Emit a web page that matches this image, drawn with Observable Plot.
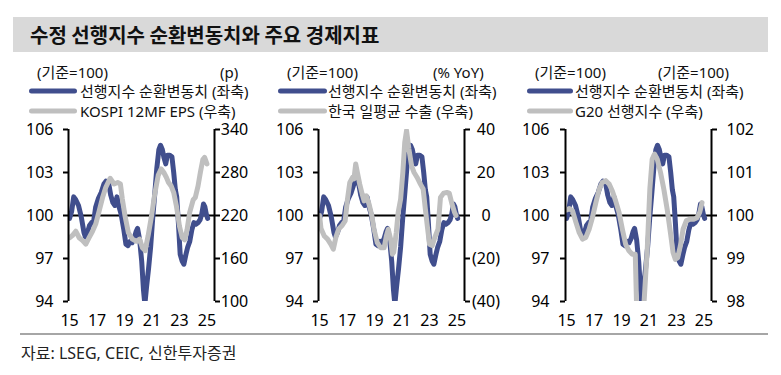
<!DOCTYPE html>
<html><head><meta charset="utf-8">
<script src="https://cdn.jsdelivr.net/npm/d3@7"></script>
<script src="https://cdn.jsdelivr.net/npm/@observablehq/plot@0.6"></script>
<style>
body{margin:0;background:#fff;}
#c{position:relative;width:781px;height:375px;font-family:"Noto Sans","Noto Sans CJK KR",sans-serif;color:#111;overflow:hidden;}
.t{position:absolute;white-space:nowrap;line-height:1;transform:translateY(-50%);}
.sw{position:absolute;height:5px;border-radius:3px;transform:translateY(-50%);}
.p{position:absolute;top:115px;}
</style></head><body><div id="c"></div>
<script>
// ---- data ----
const TITLE = "수정 선행지수 순환변동치와 주요 경제지표";
const CAPTION = "자료: LSEG, CEIC, 신한투자증권";
const X_TICKS = [2015, 2017, 2019, 2021, 2023, 2025];
const LEFT_TICKS = [94, 97, 100, 103, 106];

// 수정 선행지수 순환변동치 (left axis, same in all panels)
const cliDates = [2015.0,2015.15,2015.3,2015.45,2015.65,2015.85,2016.05,2016.15,2016.3,2016.45,2016.6,2016.75,2016.9,2017.1,2017.3,2017.5,2017.65,2017.85,2018.0,2018.15,2018.3,2018.45,2018.6,2018.75,2018.95,2019.1,2019.25,2019.4,2019.55,2019.7,2019.85,2019.95,2020.1,2020.25,2020.38,2020.48,2020.6,2020.75,2020.9,2021.05,2021.2,2021.35,2021.5,2021.62,2021.75,2021.88,2022.0,2022.12,2022.3,2022.45,2022.58,2022.7,2022.8,2022.92,2023.05,2023.2,2023.32,2023.45,2023.6,2023.75,2023.9,2024.05,2024.2,2024.35,2024.5,2024.62,2024.75,2024.85,2024.95,2025.05];
const cliValues = [99.8,100.3,101.3,101.1,100.7,99.9,98.8,98.5,98.8,99.3,99.5,99.6,100.6,101.2,101.6,102.2,102.4,102.2,101.4,100.9,100.7,101.3,100.6,100.1,99.0,98.0,97.9,98.2,98.1,98.4,98.9,99.1,98.3,96.8,94.8,93.8,95.0,96.3,97.8,99.8,101.5,103.3,104.6,104.9,104.6,104.0,103.6,104.2,104.2,104.1,103.0,101.8,101.3,99.5,97.3,96.8,96.6,97.2,97.8,98.2,99.0,99.5,99.4,99.5,99.7,100.1,100.8,100.6,100.1,99.8];

// KOSPI 12MF EPS (p, right axis)
const epsDates = [2015.0,2015.2,2015.45,2015.7,2015.95,2016.18,2016.42,2016.67,2016.9,2017.15,2017.4,2017.63,2017.95,2018.24,2018.5,2018.7,2018.84,2019.03,2019.28,2019.57,2019.86,2020.1,2020.3,2020.5,2020.72,2020.97,2021.2,2021.45,2021.67,2021.86,2022.05,2022.2,2022.4,2022.58,2022.78,2023.0,2023.2,2023.38,2023.55,2023.74,2024.0,2024.15,2024.35,2024.52,2024.7,2024.83,2025.0];
const epsValues = [189,192,198,189,185,180,189,198,208,226,245,259,272,264,266,264,243,220,196,187,184,187,175,171,192,220,250,276,285,280,273,266,261,252,233,205,189,186,200,224,242,245,261,280,298,301,292];
const epsTicks = [100, 160, 220, 280, 340];

// 한국 일평균 수출 (% YoY, right axis)
const expDates = [2015.0,2015.1,2015.34,2015.58,2015.82,2016.0,2016.18,2016.38,2016.62,2016.86,2017.03,2017.2,2017.4,2017.5,2017.63,2017.75,2017.92,2018.1,2018.24,2018.4,2018.6,2018.8,2018.96,2019.2,2019.44,2019.7,2019.86,2020.0,2020.17,2020.3,2020.4,2020.58,2020.72,2020.9,2021.06,2021.2,2021.33,2021.5,2021.7,2021.88,2022.1,2022.34,2022.54,2022.7,2022.87,2023.0,2023.2,2023.38,2023.62,2023.8,2024.03,2024.27,2024.44,2024.64,2024.83,2024.93];
const expValues = [0,-6,-9.5,-11,-13.4,-15.7,-10.3,-6.4,-4.8,-2.5,7.6,15.4,17.7,17,24,20,14.6,10,6.8,9.2,5.3,0,-6.4,-12.6,-15,-15,-9.5,-6.4,-11,-18,-17,-8,1.4,7.6,20,34,39.5,31,23,20,17.7,14.6,12.3,3,-6.4,-13.4,-14,-10.3,-6.4,8.4,10.4,10.7,10.4,5.3,1.4,0];
const expTicks = [-40, -20, 0, 20, 40];

// G20 선행지수 (기준=100, right axis)
const g20Dates = [2015.0,2015.2,2015.43,2015.68,2015.92,2016.16,2016.4,2016.64,2016.88,2017.13,2017.37,2017.6,2017.85,2018.1,2018.33,2018.57,2018.82,2019.06,2019.3,2019.54,2019.78,2020.0,2020.12,2020.25,2020.4,2020.55,2020.68,2020.87,2021.06,2021.23,2021.4,2021.6,2021.84,2022.08,2022.32,2022.56,2022.75,2022.92,2023.09,2023.28,2023.48,2023.72,2023.96,2024.25,2024.5,2024.69,2024.86];
const g20Values = [100.13,100.16,100.11,99.84,99.6,99.45,99.49,99.68,99.95,100.3,100.61,100.77,100.81,100.73,100.57,100.34,100.07,99.68,99.33,99.18,99.1,99.1,97.6,96.5,96.8,97.5,98.2,99.2,100.61,101.31,101.43,101.31,101.0,100.61,100.15,99.6,99.14,98.98,99.02,99.29,99.68,99.88,99.91,99.91,99.95,100.07,100.3];
const g20Ticks = [98, 99, 100, 101, 102];

// ---- styling ----
const BLUE = "#404E8D";
const GRAY = "#BFBFBF";
const FONT = '"Noto Sans","Noto Sans CJK KR",sans-serif';
const X_DOMAIN = [2014.92, 2025.55];

const c = document.getElementById("c");
function txt(s, x, y, size, extra = {}) {
  const e = document.createElement("div");
  e.className = "t"; e.textContent = s;
  e.style.left = x + "px"; e.style.top = y + "px"; e.style.fontSize = size + "px";
  Object.assign(e.style, extra);
  c.appendChild(e); return e;
}
function sw(x, w, y, color) {
  const e = document.createElement("div");
  e.className = "sw"; e.style.left = x + "px"; e.style.width = w + "px"; e.style.top = y + "px"; e.style.background = color;
  c.appendChild(e);
}

// title band
const band = document.createElement("div");
Object.assign(band.style, {position:"absolute", left:"13px", top:"17px", width:"755px", height:"35px", background:"#D9D9D9"});
c.appendChild(band);
txt(TITLE, 30, 35, 20, {fontWeight:"bold", fontFamily:'"Noto Sans CJK KR",sans-serif', color:"#111"});

// bottom separator + caption
const sep = document.createElement("div");
Object.assign(sep.style, {position:"absolute", left:"20px", top:"333px", width:"748px", height:"2px", background:"#A6A6A6"});
c.appendChild(sep);
txt(CAPTION, 21, 353, 16, {color:"#222"});

const cliData = cliDates.map((t, i) => ({t, v: cliValues[i]}));

function panel({left, mr, dates, values, toLeft, fromLeft, ticks, fmt, rPad, rAnchor, lPad}) {
  const grayData = dates.map((t, i) => ({t, v: toLeft(values[i])}));
  const svg = Plot.plot({
    width: 68 + 146 + mr, height: 216,
    marginLeft: 68, marginRight: mr, marginTop: 14, marginBottom: 30,
    x: {domain: X_DOMAIN, axis: null},
    y: {domain: [94, 106], axis: null},
    style: {fontSize: "16px", fontFamily: FONT, color: "#000", background: "transparent", overflow: "visible"},
    marks: [
      Plot.ruleY([100], {stroke: "#000", strokeWidth: 2}),
      Plot.line(cliData, {x: "t", y: "v", stroke: BLUE, strokeWidth: 5, strokeLinejoin: "round", strokeLinecap: "round", clip: true}),
      Plot.line(grayData, {x: "t", y: "v", stroke: GRAY, strokeWidth: 5, strokeLinejoin: "round", strokeLinecap: "round", clip: true}),
      Plot.ruleX([X_DOMAIN[0]], {y1: 94, y2: 106, stroke: "#000", strokeWidth: 2}),
      Plot.ruleX([X_DOMAIN[1]], {y1: 94, y2: 106, stroke: "#000", strokeWidth: 2}),
      Plot.axisY(LEFT_TICKS, {anchor: "left", label: null, tickSize: 5, tickPadding: lPad, strokeWidth: 2, tickFormat: d => String(d)}),
      Plot.axisY(ticks.map(toLeft), {anchor: "right", label: null, tickSize: 5, tickPadding: rPad, textAnchor: rAnchor, strokeWidth: 2, tickFormat: d => fmt(Math.round(fromLeft(d) * 100) / 100)}),
      Plot.axisX(X_TICKS, {anchor: "bottom", label: null, tickSize: 0, tickPadding: 13, tickFormat: d => String(d).slice(2)})
    ]
  });
  svg.classList.add("p");
  svg.style.left = left + "px";
  c.appendChild(svg);
}

panel({left: 0, mr: 50, dates: epsDates, values: epsValues, ticks: epsTicks,
  toLeft: v => 100 + (v - 220) / 20, fromLeft: y => 220 + (y - 100) * 20,
  fmt: v => String(v), rPad: 15, rAnchor: "middle", lPad: 10});
panel({left: 250, mr: 50, dates: expDates, values: expValues, ticks: expTicks,
  toLeft: v => 100 + v * 12 / 80, fromLeft: y => (y - 100) * 80 / 12,
  fmt: v => v < 0 ? `(${-v})` : String(v), rPad: 16.5, rAnchor: "middle", lPad: 10});
panel({left: 497, mr: 55, dates: g20Dates, values: g20Values, ticks: g20Ticks,
  toLeft: v => 100 + (v - 100) * 3, fromLeft: y => 100 + (y - 100) / 3,
  fmt: v => String(v), rPad: 10, rAnchor: "start", lPad: 11});

// header units + legends
const HEAD_Y = 72, ROW1 = 91, ROW2 = 111;
txt("(기준=100)", 37, HEAD_Y, 15);
txt("(p)", 220, HEAD_Y, 15);
sw(29, 48, ROW1, BLUE); txt("선행지수 순환변동치 (좌축)", 80, ROW1, 15);
sw(29, 48, ROW2, GRAY); txt("KOSPI 12MF EPS (우축)", 80, ROW2, 15);

txt("(기준=100)", 287, HEAD_Y, 15);
txt("(% YoY)", 433, HEAD_Y, 15);
sw(278, 49, ROW1, BLUE); txt("선행지수 순환변동치 (좌축)", 328, ROW1, 15);
sw(278, 49, ROW2, GRAY); txt("한국 일평균 수출 (우축)", 328, ROW2, 15);

txt("(기준=100)", 535, HEAD_Y, 15);
txt("(기준=100)", 658, HEAD_Y, 15);
sw(527, 46, ROW1, BLUE); txt("선행지수 순환변동치 (좌축)", 575, ROW1, 15);
sw(527, 46, ROW2, GRAY); txt("G20 선행지수 (우축)", 575, ROW2, 15);
</script></body></html>
